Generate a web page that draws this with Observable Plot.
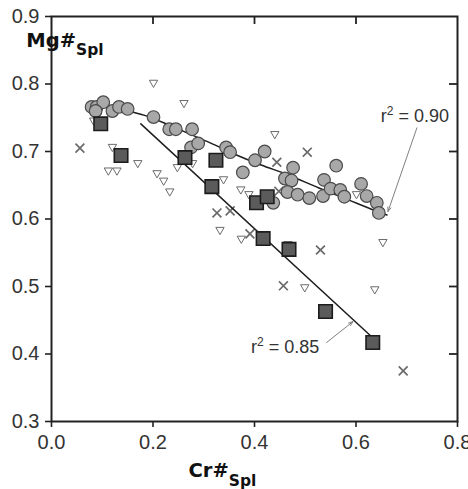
<!DOCTYPE html>
<html>
<head>
<meta charset="utf-8">
<script src="https://cdn.jsdelivr.net/npm/d3@7"></script>
<script src="https://cdn.jsdelivr.net/npm/@observablehq/plot@0.6"></script>
<style>
  html, body { margin: 0; padding: 0; background: #fff; }
  #chart svg { display: block; }
</style>
</head>
<body>
<div id="chart"></div>
<script>
// Spinel Mg# versus Cr# — four sample groups, two fitted trends
const circleCr = [0.079, 0.089, 0.102, 0.087, 0.120, 0.133, 0.150, 0.201, 0.232, 0.245, 0.277, 0.275,
  0.289, 0.344, 0.352, 0.377, 0.401, 0.420, 0.476, 0.460, 0.473, 0.437, 0.465, 0.485, 0.508, 0.537,
  0.535, 0.550, 0.569, 0.577, 0.561, 0.610, 0.621, 0.641, 0.645];
const circleMg = [0.766, 0.766, 0.773, 0.760, 0.760, 0.766, 0.763, 0.751, 0.733, 0.733, 0.733, 0.706,
  0.712, 0.706, 0.699, 0.669, 0.687, 0.700, 0.676, 0.660, 0.657, 0.624, 0.640, 0.636, 0.631, 0.658,
  0.634, 0.645, 0.643, 0.633, 0.679, 0.652, 0.634, 0.624, 0.609];

const squareCr = [0.097, 0.137, 0.263, 0.324, 0.316, 0.404, 0.425, 0.417, 0.468, 0.540, 0.633];
const squareMg = [0.741, 0.694, 0.691, 0.687, 0.648, 0.624, 0.633, 0.571, 0.555, 0.463, 0.417];

const triangleCr = [0.201, 0.261, 0.120, 0.112, 0.129, 0.170, 0.208, 0.221, 0.233, 0.248, 0.278, 0.339,
  0.332, 0.440, 0.373, 0.389, 0.601, 0.374, 0.653, 0.499, 0.637, 0.083, 0.466];
const triangleMg = [0.802, 0.772, 0.707, 0.672, 0.672, 0.683, 0.668, 0.657, 0.641, 0.677, 0.683, 0.659,
  0.584, 0.726, 0.644, 0.637, 0.637, 0.571, 0.566, 0.499, 0.496, 0.746, 0.563];

const crossCr = [0.056, 0.326, 0.352, 0.444, 0.504, 0.391, 0.530, 0.457, 0.693, 0.448];
const crossMg = [0.705, 0.609, 0.612, 0.684, 0.699, 0.578, 0.554, 0.501, 0.375, 0.641];

// fitted trends
const upperFitCr = [0.077, 0.117, 0.152, 0.190, 0.229, 0.275, 0.318, 0.361, 0.413, 0.464, 0.527, 0.586, 0.639, 0.661];
const upperFitMg = [0.768, 0.766, 0.760, 0.752, 0.740, 0.725, 0.711, 0.696, 0.680, 0.666, 0.646, 0.628, 0.612, 0.606];
const lowerFitCr = [0.176, 0.633];
const lowerFitMg = [0.741, 0.424];

// r² annotations: label position and arrow from label to curve
const fitR2 = ["0.90", "0.85"];
const fitLabelCr = [0.649, 0.393];
const fitLabelMg = [0.7526, 0.4104];
const arrowFromCr = [0.720, 0.542];
const arrowFromMg = [0.735, 0.417];
const arrowToCr = [0.663, 0.594];
const arrowToMg = [0.611, 0.448];

const xTicks = [0.0, 0.2, 0.4, 0.6, 0.8];
const yTicks = [0.3, 0.4, 0.5, 0.6, 0.7, 0.8, 0.9];
const xDomain = [0, 0.8];
const yDomain = [0.3, 0.9];

const zip = (xs, ys) => xs.map((x, i) => ({x, y: ys[i]}));
const circles = zip(circleCr, circleMg);
const squares = zip(squareCr, squareMg);
const triangles = zip(triangleCr, triangleMg);
const crosses = zip(crossCr, crossMg);
const upperFit = zip(upperFitCr, upperFitMg);
const lowerFit = zip(lowerFitCr, lowerFitMg);
const annotations = fitR2.map((r2, i) => ({
  r2, x: fitLabelCr[i], y: fitLabelMg[i],
  x1: arrowFromCr[i], y1: arrowFromMg[i], x2: arrowToCr[i], y2: arrowToMg[i]
}));

const fmt = d3.format(".1f");
const axisColor = "#222";
const textColor = "#333";
const W = 468, H = 489, mL = 51, mR = 11, mT = 16, mB = 68;
const innerW = W - mL - mR, innerH = H - mT - mB;
// inward tick length (8px) expressed in data units along each axis
const inTick = 8;
const tickDx = inTick * (xDomain[1] - xDomain[0]) / innerW;
const tickDy = inTick * (yDomain[1] - yDomain[0]) / innerH;

const svg = Plot.plot({
  width: W,
  height: H,
  marginLeft: mL,
  marginRight: mR,
  marginTop: mT,
  marginBottom: mB,
  style: {fontFamily: "'Liberation Sans', Arial, Helvetica, sans-serif", fontSize: "20px", color: textColor, background: "#fff"},
  x: {domain: xDomain},
  y: {domain: yDomain},
  marks: [
    Plot.axisX({anchor: "bottom", ticks: xTicks, tickFormat: fmt, tickSize: 6, tickPadding: 7, label: null, stroke: axisColor, strokeWidth: 1.6, fill: textColor}),
    Plot.axisY({anchor: "left", ticks: yTicks, tickFormat: fmt, tickSize: 6, tickPadding: 6, label: null, stroke: axisColor, strokeWidth: 1.6, fill: textColor}),
    // inward ticks along the top and right edges
    Plot.ruleX(xTicks.slice(1, -1), {x: d => d, y1: yDomain[1], y2: yDomain[1] - tickDy, stroke: axisColor, strokeWidth: 1.8}),
    Plot.ruleY(yTicks.slice(1, -1), {y: d => d, x1: xDomain[1], x2: xDomain[1] - tickDx, stroke: axisColor, strokeWidth: 1.8}),
    Plot.dot(triangles, {x: "x", y: "y", symbol: "triangle", r: 3.1, rotate: 180, fill: "#fff", stroke: "#6b6b6b", strokeWidth: 1}),
    Plot.dot(crosses, {x: "x", y: "y", symbol: "times", r: 4.1, stroke: "#6a6a6a", strokeWidth: 1.7}),
    Plot.line(upperFit, {x: "x", y: "y", curve: "catmull-rom", stroke: "#1e1e1e", strokeWidth: 1.5}),
    Plot.dot(circles, {x: "x", y: "y", r: 6.3, fill: "#a8a8a8", stroke: "#4a4a4a", strokeWidth: 1.2}),
    Plot.line(lowerFit, {x: "x", y: "y", stroke: "#1e1e1e", strokeWidth: 1.5}),
    Plot.dot(squares, {x: "x", y: "y", symbol: "square", r: 7.6, fill: "#5b5b5b", stroke: "#1c1c1c", strokeWidth: 1.6}),
    Plot.arrow(annotations, {x1: "x1", y1: "y1", x2: "x2", y2: "y2", stroke: "#808080", strokeWidth: 1, headLength: 7, headAngle: 40}),
    Plot.text(annotations, {x: "x", y: "y", text: d => `r2 = ${d.r2}`, textAnchor: "start", fontSize: 18, fill: textColor, className: "r2-label"}),
    Plot.frame({stroke: axisColor, strokeWidth: 2})
  ]
});

const s = d3.select(svg);

// raise the "2" of each r² label into a superscript
s.selectAll(".r2-label text").each(function(d, i) {
  const t = d3.select(this);
  t.text(null);
  t.append("tspan").text("r");
  t.append("tspan").attr("dy", -7).style("font-size", "12px").text("2");
  t.append("tspan").attr("dy", 7).text(` = ${fitR2[i]}`);
});

// axis titles with subscripts
function subTitle(x, y, main, sub) {
  const t = s.append("text")
    .attr("x", x).attr("y", y)
    .attr("fill", "#111")
    .style("font-family", "'DejaVu Sans', Verdana, sans-serif")
    .style("font-weight", "bold")
    .style("font-size", "19.5px");
  t.append("tspan").text(main);
  t.append("tspan").attr("dy", 8.5).style("font-size", "15.5px").text(sub);
}
subTitle(65, 46.7, "Mg#", "Spl");
subTitle(222.5, 477.3, "Cr#", "Spl");

document.getElementById("chart").appendChild(svg);
</script>
</body>
</html>
